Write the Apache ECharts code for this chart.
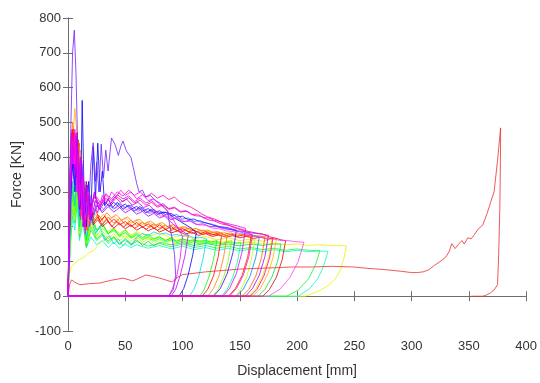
<!DOCTYPE html>
<html>
<head>
<meta charset="utf-8">
<script src="https://cdn.jsdelivr.net/npm/echarts@6/dist/echarts.min.js"></script>
<style>
  html, body { margin: 0; padding: 0; background: #fff; }
  #chart { width: 540px; height: 383px; }
</style>
</head>
<body>
<div id="chart"></div>
<script>
// Axis settings
const xTicks = [0, 50, 100, 150, 200, 250, 300, 350, 400];
const yTicks = [-100, 0, 100, 200, 300, 400, 500, 600, 700, 800];

// Force–displacement records, [displacement mm, force kN]
const runYellowLow = [[0,0],[1,60],[3,85],[6,95],[10,105],[14,112],[18,125],[22,130],[26,145],[30,160],[35,170],[40,165],[45,178],[50,170],[55,175],[60,165],[65,172],[70,162],[80,168],[90,160],[100,165],[110,158],[120,162],[130,155],[140,158],[150,152],[160,155],[170,150],[180,152],[190,148],[200,150],[210,146],[220,148],[230,145],[240,146],[243,144],[241,110],[238,75],[233,48],[226,28],[217,12],[207,0],[0,0]];
const runCyanGreen = [[0,0],[2,140],[4,230],[6,190],[8,270],[10,160],[13,210],[16,140],[20,170],[25,148],[30,160],[35,140],[40,155],[45,138],[50,150],[55,140],[60,148],[70,138],[80,146],[90,136],[100,144],[110,134],[120,140],[130,132],[140,138],[150,130],[160,136],[170,128],[180,134],[190,128],[200,132],[210,128],[220,130],[227,129],[223,85],[218,50],[211,22],[201,0],[0,0]];
const runGreen3 = [[0,0],[2,150],[4,250],[6,210],[8,290],[10,170],[13,230],[16,140],[20,190],[25,160],[30,175],[35,152],[40,168],[45,148],[50,162],[55,146],[60,158],[70,144],[80,152],[90,142],[100,150],[110,140],[120,146],[130,138],[140,144],[150,136],[160,140],[170,134],[180,138],[190,132],[200,136],[210,132],[220,131],[216,90],[210,50],[201,18],[191,0],[0,0]];
const runYellow2 = [[0,0],[2,200],[4,330],[6,280],[8,360],[10,220],[13,280],[16,170],[20,230],[25,190],[30,205],[35,185],[40,198],[45,180],[50,192],[55,175],[60,186],[70,172],[80,182],[90,168],[100,176],[110,165],[120,172],[130,162],[140,168],[150,160],[160,164],[170,158],[178,164],[175,110],[170,60],[164,22],[158,0],[0,0]];
const runGreen2 = [[0,0],[2,170],[4,280],[6,230],[8,310],[10,190],[13,250],[16,145],[20,200],[25,165],[30,180],[35,158],[40,172],[45,150],[50,166],[55,148],[60,162],[65,146],[70,158],[75,145],[80,155],[90,148],[100,154],[110,146],[120,152],[130,146],[140,150],[150,145],[160,150],[170,146],[178,150],[186,150],[183,100],[178,55],[172,20],[166,0],[0,0]];
const runYellowGreen = [[0,0],[2,160],[4,270],[6,220],[8,300],[10,180],[13,240],[16,150],[20,200],[25,170],[30,188],[35,165],[40,180],[45,160],[50,174],[55,158],[60,170],[65,155],[70,166],[75,152],[80,162],[85,150],[90,160],[95,150],[100,158],[110,152],[120,156],[130,150],[140,156],[150,152],[158,158],[163,160],[160,105],[156,55],[151,20],[146,0],[0,0]];
const runSpring = [[0,0],[2,190],[4,300],[6,240],[8,340],[10,200],[13,270],[16,160],[20,225],[25,185],[30,205],[35,180],[40,192],[45,172],[50,184],[55,166],[60,178],[65,162],[70,170],[75,158],[80,166],[85,156],[90,163],[95,154],[100,160],[105,152],[110,158],[115,150],[120,156],[125,150],[130,154],[135,150],[140,155],[145,152],[151,155],[148,100],[144,55],[139,20],[134,0],[0,0]];
const runLime = [[0,0],[2,180],[4,290],[6,240],[8,330],[10,190],[13,260],[16,150],[20,210],[25,175],[30,195],[35,178],[40,188],[45,170],[50,182],[55,168],[60,176],[65,164],[70,172],[75,162],[80,170],[85,160],[90,166],[95,158],[100,164],[105,156],[110,162],[115,155],[120,160],[125,154],[130,158],[135,152],[139,158],[143,160],[140,105],[136,55],[131,20],[126,0],[0,0]];
const runGreen = [[0,0],[2,200],[4,320],[6,260],[8,380],[10,220],[13,300],[16,160],[20,240],[25,190],[30,210],[35,180],[40,195],[45,175],[50,190],[55,170],[60,182],[65,168],[70,178],[75,165],[80,172],[85,160],[90,168],[95,158],[100,165],[105,160],[110,162],[115,158],[120,160],[125,156],[130,160],[127,105],[123,55],[119,20],[115,0],[0,0]];
const runCyan = [[0,0],[2,220],[4,330],[6,260],[8,350],[10,200],[13,280],[16,170],[20,230],[24,180],[28,200],[32,160],[36,175],[40,150],[44,165],[48,145],[52,160],[56,150],[60,170],[65,180],[70,175],[75,185],[80,178],[85,182],[90,175],[95,178],[100,172],[105,175],[110,168],[115,170],[121,165],[118,110],[114,55],[110,20],[106,0],[0,0]];
const runOrange3 = [[0,0],[2,290],[4,440],[6,540],[7.5,480],[9,330],[11,420],[13,220],[16,310],[19,210],[23,240],[27,220],[31,236],[35,218],[40,230],[45,214],[50,226],[55,210],[60,220],[65,206],[70,214],[75,202],[80,210],[85,198],[90,205],[95,194],[100,200],[106,190],[112,194],[118,184],[124,188],[130,180],[136,184],[142,176],[148,180],[154,172],[160,176],[166,170],[172,172],[178,166],[182,165],[179,110],[174,60],[168,22],[161,0],[0,0]];
const runRed3 = [[0,0],[1.5,260],[3,420],[5,460],[7,340],[9,430],[11,230],[13,330],[16,190],[19,270],[22,205],[26,220],[30,200],[35,215],[40,196],[45,210],[50,194],[55,205],[60,190],[65,200],[70,188],[75,196],[80,185],[85,192],[90,182],[96,188],[102,178],[108,184],[114,175],[120,180],[126,172],[132,176],[138,170],[144,174],[150,168],[156,172],[162,166],[168,170],[174,164],[180,168],[186,162],[190,160],[187,105],[182,55],[176,20],[170,0],[0,0]];
const runOrange2 = [[0,0],[2,310],[4,470],[6,420],[8,360],[10,440],[12,230],[14,330],[17,190],[20,270],[23,215],[27,232],[31,212],[35,228],[40,210],[45,224],[50,206],[55,218],[60,204],[65,212],[70,200],[75,208],[80,196],[85,204],[90,193],[95,200],[100,190],[106,196],[112,186],[118,190],[124,182],[130,186],[136,178],[142,182],[148,175],[154,178],[160,172],[166,174],[172,170],[169,112],[164,58],[158,20],[152,0],[0,0]];
const runRed2 = [[0,0],[1.5,280],[3,440],[5,470],[7,360],[9,450],[11,240],[13,350],[16,200],[19,290],[22,210],[26,228],[30,205],[34,222],[38,200],[43,215],[48,198],[53,210],[58,195],[63,205],[68,192],[73,202],[78,190],[83,198],[88,186],[93,194],[98,184],[103,190],[108,180],[113,186],[118,178],[123,182],[128,176],[133,180],[138,174],[143,178],[148,172],[153,176],[157,172],[160,175],[157,115],[152,60],[146,22],[140,0],[0,0]];
const runOrange = [[0,0],[2,330],[4,500],[5.5,470],[7,380],[9,430],[11,230],[13,340],[16,190],[19,280],[22,215],[26,235],[30,220],[34,240],[38,225],[42,235],[47,218],[52,228],[57,212],[62,222],[67,208],[72,216],[77,204],[82,212],[87,200],[92,206],[97,196],[102,200],[107,192],[112,195],[117,188],[122,190],[127,182],[132,184],[136,178],[139,175],[136,115],[132,60],[127,22],[122,0],[0,0]];
const runRed = [[0,0],[1.5,300],[3,460],[4.5,480],[6,350],[8,470],[10,250],[12,360],[14,200],[17,320],[20,220],[24,250],[28,215],[32,230],[36,210],[40,222],[45,205],[50,215],[55,200],[60,212],[65,198],[70,208],[75,195],[80,205],[85,192],[90,200],[95,188],[100,195],[105,185],[110,190],[115,180],[120,185],[125,176],[130,180],[134,172],[131,112],[127,58],[122,20],[117,0],[0,0]];
const runAzure = [[0,0],[2,300],[4,420],[6,330],[8,390],[10,230],[12,340],[15,190],[18,290],[21,210],[25,260],[30,245],[35,265],[40,250],[45,268],[50,255],[55,262],[60,248],[65,255],[70,240],[75,250],[80,236],[85,242],[90,230],[95,235],[100,222],[105,225],[110,215],[115,218],[120,210],[126,207],[132,200],[138,195],[144,190],[150,185],[156,180],[162,175],[167,170],[164,112],[159,58],[153,20],[147,0],[0,0]];
const runBlueViolet = [[0,0],[2,270],[4,410],[6,320],[8,440],[10,250],[12,360],[14,200],[17,300],[20,220],[24,275],[28,250],[32,272],[36,258],[40,270],[45,255],[50,265],[55,250],[60,258],[65,245],[70,252],[75,240],[80,246],[85,235],[90,238],[95,228],[100,230],[105,220],[110,222],[115,214],[120,212],[126,205],[132,200],[138,198],[143,194],[147,190],[144,125],[139,65],[133,22],[127,0],[0,0]];
const runBlue = [[0,0],[2,250],[4,380],[6,300],[9,420],[11,250],[12.4,563],[14,300],[16,200],[18,330],[20,240],[22,430],[24,280],[26,440],[28,300],[30,360],[32,260],[35,280],[39,255],[43,270],[48,250],[53,262],[58,245],[63,258],[68,240],[73,250],[78,235],[83,242],[88,239],[93,225],[98,215],[103,205],[108,195],[112,182],[109,120],[105,62],[101,22],[97,0],[0,0]];
const runViolet2 = [[0,0],[2,300],[4,450],[6,360],[8,420],[10,260],[12,370],[15,210],[18,300],[21,230],[25,262],[30,240],[35,258],[40,242],[45,255],[50,240],[55,250],[60,236],[65,244],[70,230],[75,238],[80,225],[85,232],[90,220],[95,226],[100,214],[106,218],[112,206],[118,208],[124,200],[130,200],[136,194],[142,192],[148,188],[154,186],[160,182],[166,180],[171,178],[175,175],[172,115],[167,60],[161,22],[155,0],[0,0]];
const runMagenta3 = [[0,0],[2,320],[4,460],[6,380],[8,440],[10,270],[12,380],[15,220],[18,300],[22,240],[26,270],[31,250],[36,268],[41,252],[46,264],[51,248],[56,258],[61,244],[66,252],[71,238],[76,244],[81,230],[86,236],[91,222],[96,226],[102,214],[108,216],[114,205],[120,204],[126,196],[132,194],[138,188],[144,186],[150,180],[156,178],[162,172],[168,170],[174,166],[180,164],[186,160],[192,160],[198,157],[206,155],[201,100],[194,55],[185,20],[175,0],[0,0]];
const runRose = [[0,0],[2,360],[3.5,480],[5,420],[7,470],[9,300],[11,400],[13,230],[16,330],[19,250],[23,285],[28,262],[33,282],[38,268],[43,285],[48,272],[53,283],[58,268],[63,276],[68,262],[73,270],[78,256],[83,262],[88,250],[93,254],[98,242],[104,244],[110,232],[116,230],[122,220],[128,216],[134,208],[140,204],[146,198],[152,192],[158,186],[164,182],[170,178],[175,172],[179,168],[176,110],[171,58],[165,20],[159,0],[0,0]];
const runMagenta2 = [[0,0],[2,340],[3.5,470],[5,400],[7,460],[9,290],[11,390],[13,220],[16,320],[19,240],[23,295],[28,270],[33,290],[38,275],[43,292],[48,280],[53,288],[58,272],[63,282],[68,268],[73,275],[78,260],[83,266],[88,252],[93,256],[98,244],[103,246],[108,235],[113,236],[118,226],[123,225],[128,218],[133,215],[138,210],[143,206],[148,202],[152,198],[155,195],[152,128],[147,65],[141,22],[135,0],[0,0]];
const runPink = [[0,0],[1.5,350],[3,470],[5,390],[7,450],[9,280],[11,380],[13,200],[16,310],[19,230],[23,290],[28,260],[33,295],[38,280],[43,300],[48,288],[53,305],[58,290],[63,300],[68,285],[73,296],[78,282],[83,290],[88,278],[93,285],[98,270],[103,262],[108,255],[113,245],[117,236],[122,228],[128,222],[134,212],[140,205],[146,196],[152,190],[157,182],[161,176],[158,115],[153,60],[147,22],[141,0],[0,0]];
const runPurple = [[0,0],[2,280],[4,430],[6,350],[8,460],[10,260],[12,390],[14,210],[16,320],[19,220],[23,300],[27,250],[31,275],[36,260],[41,285],[46,270],[51,280],[56,262],[61,270],[66,255],[71,262],[76,245],[81,240],[86,225],[91,210],[96,195],[101,185],[105,175],[102,115],[98,60],[94,20],[90,0],[0,0]];
const runViolet = [[0,0],[2,420],[4,700],[5.5,765],[7,640],[8.5,420],[10,300],[12,380],[14,200],[16,330],[18,250],[20,380],[22,441],[24,330],[25,385],[27,300],[29,437],[31,340],[33,420],[35,360],[38,455],[41,437],[44,405],[46,430],[48,446],[51,418],[55,399],[57,370],[60,324],[62,300],[65,305],[68,285],[72,290],[76,275],[80,268],[84,255],[87,245],[89,200],[91,165],[93,120],[94,60],[92,20],[88,0]];
const runMagenta = [[0,0],[1.5,300],[3,440],[4.5,380],[6,480],[7.5,300],[9,420],[11,220],[13,350],[15,180],[17,300],[19,200],[22,280],[26,240],[30,290],[34,270],[38,300],[42,285],[46,305],[50,290],[55,300],[60,280],[65,292],[70,275],[75,280],[80,265],[84,255],[88,240],[92,220],[96,195],[100,172],[98,112],[95,58],[91,20],[88,0],[0,0]];
const runLong = [[0,0],[1.5,35],[3.2,47],[6,40],[10.4,33],[18,36],[27.8,38],[38,46],[48,52],[56.5,44],[62,52],[68,61],[74,57],[80,52],[86,46],[91,41],[96,55],[100,62],[110,66],[120,70],[135,74],[150,78],[165,80],[180,82],[195,84],[213,84],[230,86],[250,84],[262,80],[275,77],[290,72],[300,68],[305,68],[310,70],[315,76],[320,89],[325,100],[330,113],[333,130],[335,151],[338,137],[341,150],[344,160],[346,150],[349,168],[352,165],[355,178],[358,193],[362,204],[366,239],[369,270],[372,300],[375,390],[377.7,484],[377.5,380],[377,250],[376,120],[375,33],[372,18],[369,10],[365,3],[362,0],[352,0]];

// Drawing order (later entries on top) and line colours
const runs = [runYellowLow, runCyanGreen, runGreen3, runYellow2, runGreen2, runYellowGreen, runSpring, runLime, runGreen, runCyan,
              runOrange3, runRed3, runOrange2, runRed2, runOrange, runRed, runLong, runAzure, runBlueViolet, runBlue,
              runViolet2, runMagenta3, runRose, runMagenta2, runPink, runPurple, runViolet, runMagenta];
const runColors = ['#f2f200', '#00ffc0', '#20f040', '#e6e600', '#00e040', '#b8ff00', '#00ff80', '#80ff00', '#00ff00', '#00d8e8',
                   '#ffb000', '#e00000', '#ff6000', '#ff2000', '#ff8000', '#ff0000', '#e83030', '#0080ff', '#4000ff', '#0000ff',
                   '#a000ff', '#ff40ff', '#ff0080', '#e000ff', '#ff00c0', '#c000ff', '#7020ff', '#ff00ff'];

const chart = echarts.init(document.getElementById('chart'), null, { renderer: 'canvas' });

const axisText = { color: '#333', fontSize: 13, fontFamily: 'Liberation Sans, Arial, sans-serif' };
const boxLine = { lineStyle: { color: '#6e6e6e', width: 1 } };
const innerTick = { inside: true, length: 5, lineStyle: { color: '#6e6e6e' } };

chart.setOption({
  animation: false,
  backgroundColor: '#ffffff',
  grid: { left: 68, right: 11, top: 18, bottom: 46, containLabel: false },
  xAxis: [
    {
      type: 'value', min: xTicks[0], max: xTicks[xTicks.length - 1], interval: xTicks[1] - xTicks[0],
      position: 'bottom',
      axisLine: boxLine, axisTick: innerTick, splitLine: { show: false },
      axisLabel: Object.assign({ margin: 9 }, axisText),
      name: 'Displacement [mm]', nameLocation: 'middle', nameGap: 33,
      nameTextStyle: { color: '#333', fontSize: 14, fontFamily: 'Liberation Sans, Arial, sans-serif' }
    },
    {
      type: 'value', min: xTicks[0], max: xTicks[xTicks.length - 1], interval: xTicks[1] - xTicks[0],
      position: 'top',
      axisLine: boxLine, axisTick: innerTick, splitLine: { show: false }, axisLabel: { show: false }
    }
  ],
  yAxis: [
    {
      type: 'value', min: yTicks[0], max: yTicks[yTicks.length - 1], interval: yTicks[1] - yTicks[0],
      position: 'left',
      axisLine: boxLine, axisTick: innerTick, splitLine: { show: false },
      axisLabel: Object.assign({ margin: 7 }, axisText),
      name: 'Force [KN]', nameLocation: 'middle', nameGap: 37, nameRotate: 90,
      nameTextStyle: { color: '#333', fontSize: 14, fontFamily: 'Liberation Sans, Arial, sans-serif' }
    },
    {
      type: 'value', min: yTicks[0], max: yTicks[yTicks.length - 1], interval: yTicks[1] - yTicks[0],
      position: 'right',
      axisLine: boxLine, axisTick: innerTick, splitLine: { show: false }, axisLabel: { show: false }
    }
  ],
  series: runs.map((pts, i) => ({
    type: 'line',
    xAxisIndex: 0,
    yAxisIndex: 0,
    data: pts,
    showSymbol: false,
    symbol: 'none',
    silent: true,
    lineStyle: { color: runColors[i], width: 0.8 },
    emphasis: { disabled: true }
  }))
});
</script>
</body>
</html>
